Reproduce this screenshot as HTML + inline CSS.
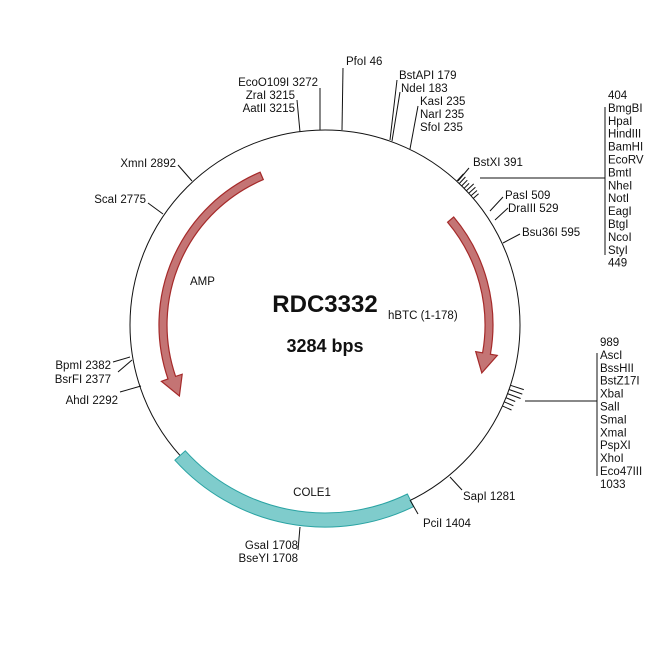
<!DOCTYPE html>
<html><head><meta charset="utf-8"><style>
html,body{margin:0;padding:0;background:#fff}
svg{display:block}
text{font-family:"Liberation Sans",Arial,sans-serif;font-size:11.5px;fill:#111}
</style></head><body>
<svg id="s" width="650" height="650" viewBox="0 0 650 650" xmlns="http://www.w3.org/2000/svg">
<circle cx="325" cy="325" r="195" fill="none" stroke="#111" stroke-width="1"/>
<path id="cole" fill="#7fcccc" stroke="#2aa3a3" stroke-width="1"/>
<path id="a1" fill="#c47474" stroke="#a52a2a" stroke-width="1.2"/>
<path id="a2" fill="#c47474" stroke="#a52a2a" stroke-width="1.2"/>
<g stroke="#111" stroke-width="1" fill="none">
<polyline points="343,68 342,130"/>
<polyline points="320,88 320,130"/>
<polyline points="297,100 300,132"/>
<polyline points="397,80 390,140"/>
<polyline points="400,92 392,141"/>
<polyline points="418,106 410,149"/>
<polyline points="469,168 458,181"/>
<polyline points="480,178 605,178"/>
<polyline points="605,107 605,255"/>
<polyline points="503,197 490,211"/>
<polyline points="508,208 495,220"/>
<polyline points="520,234 503,243"/>
<polyline points="525,401 597,401"/>
<polyline points="597,353 597,476"/>
<polyline points="450,477 462,490"/>
<polyline points="410,500 418,514"/>
<polyline points="300,527 298,550"/>
<polyline points="178,165 192,181"/>
<polyline points="148,203 163,214"/>
<polyline points="113,362 130,357"/>
<polyline points="118,372 132,360"/>
<polyline points="120,392 141,386"/>
<path id="t1"/><path id="t2"/>
</g>
<text x="346" y="65">PfoI 46</text>
<text x="318" y="86" text-anchor="end">EcoO109I 3272</text>
<text x="295" y="99" text-anchor="end">ZraI 3215</text>
<text x="295" y="112" text-anchor="end">AatII 3215</text>
<text x="399" y="79">BstAPI 179</text>
<text x="401" y="92">NdeI 183</text>
<text x="420" y="105">KasI 235</text>
<text x="420" y="118">NarI 235</text>
<text x="420" y="131">SfoI 235</text>
<text x="473" y="166">BstXI 391</text>
<text x="505" y="199">PasI 509</text>
<text x="508" y="212">DraIII 529</text>
<text x="522" y="236">Bsu36I 595</text>
<g id="r1"></g><g id="r2"></g>
<text x="463" y="500">SapI 1281</text>
<text x="423" y="527">PciI 1404</text>
<text x="298" y="549" text-anchor="end">GsaI 1708</text>
<text x="298" y="562" text-anchor="end">BseYI 1708</text>
<text x="176" y="167" text-anchor="end">XmnI 2892</text>
<text x="146" y="203" text-anchor="end">ScaI 2775</text>
<text x="111" y="369" text-anchor="end">BpmI 2382</text>
<text x="111" y="383" text-anchor="end">BsrFI 2377</text>
<text x="118" y="404" text-anchor="end">AhdI 2292</text>
<text x="325" y="312" text-anchor="middle" style="font-size:24px;font-weight:bold">RDC3332</text>
<text x="388" y="319">hBTC (1-178)</text>
<text x="325" y="352" text-anchor="middle" style="font-size:18px;font-weight:bold">3284 bps</text>
<text x="190" y="285">AMP</text>
<text x="312" y="496" text-anchor="middle">COLE1</text>
</svg>
<script>
var C=325,CY=325;
function P(a,r){var t=a*Math.PI/180;return [(C+r*Math.sin(t)).toFixed(1),(CY-r*Math.cos(t)).toFixed(1)];}
function band(a0,a1,r0,r1){var p=P(a0,r1),q=P(a1,r1),s=P(a1,r0),u=P(a0,r0);var sw=a1>a0?1:0;
return "M"+p+" A"+r1+","+r1+" 0 0 "+sw+" "+q+" L"+s+" A"+r0+","+r0+" 0 0 "+(1-sw)+" "+u+"Z";}
document.getElementById("cole").setAttribute("d",band(154,228,188,202));
function arrow(a0,a1,r){var dir=a1>a0?1:-1,hl=7*dir,ab=a1-hl;
var p1=P(a0,r+4),p2=P(ab,r+4),h1=P(ab,r+11),tip=P(a1,r),h2=P(ab,r-11),p3=P(ab,r-4),p4=P(a0,r-4);
var sw=dir>0?1:0;
return "M"+p1+" A"+(r+4)+","+(r+4)+" 0 0 "+sw+" "+p2+" L"+h1+" L"+tip+" L"+h2+" L"+p3+" A"+(r-4)+","+(r-4)+" 0 0 "+(1-sw)+" "+p4+"Z";}
document.getElementById("a1").setAttribute("d",arrow(-23,-116,162));
document.getElementById("a2").setAttribute("d",arrow(50,107,164));
// tick clusters
var d="";
for(var i=0;i<8;i++){var a=42.5+i*1.0;var p=P(a,195),q=P(a,195+(i<4?10:14)-i);d+="M"+p+" L"+q+" ";}
document.getElementById("t1").setAttribute("d",d);
d="";
for(var i=0;i<6;i++){var a=108+i*1.3;var p=P(a,195),q=P(a,205+(i<3?4:0));d+="M"+p+" L"+q+" ";}
document.getElementById("t2").setAttribute("d",d);
var NS="http://www.w3.org/2000/svg";
function list(id,x,y0,arr){var g=document.getElementById(id);arr.forEach(function(s,i){var t=document.createElementNS(NS,"text");t.setAttribute("x",x);t.setAttribute("y",y0+i*12.9);t.textContent=s;g.appendChild(t);});}
list("r1",608,99,["404","BmgBI","HpaI","HindIII","BamHI","EcoRV","BmtI","NheI","NotI","EagI","BtgI","NcoI","StyI","449"]);
list("r2",600,346,["989","AscI","BssHII","BstZ17I","XbaI","SalI","SmaI","XmaI","PspXI","XhoI","Eco47III","1033"]);
</script>
</body></html>
